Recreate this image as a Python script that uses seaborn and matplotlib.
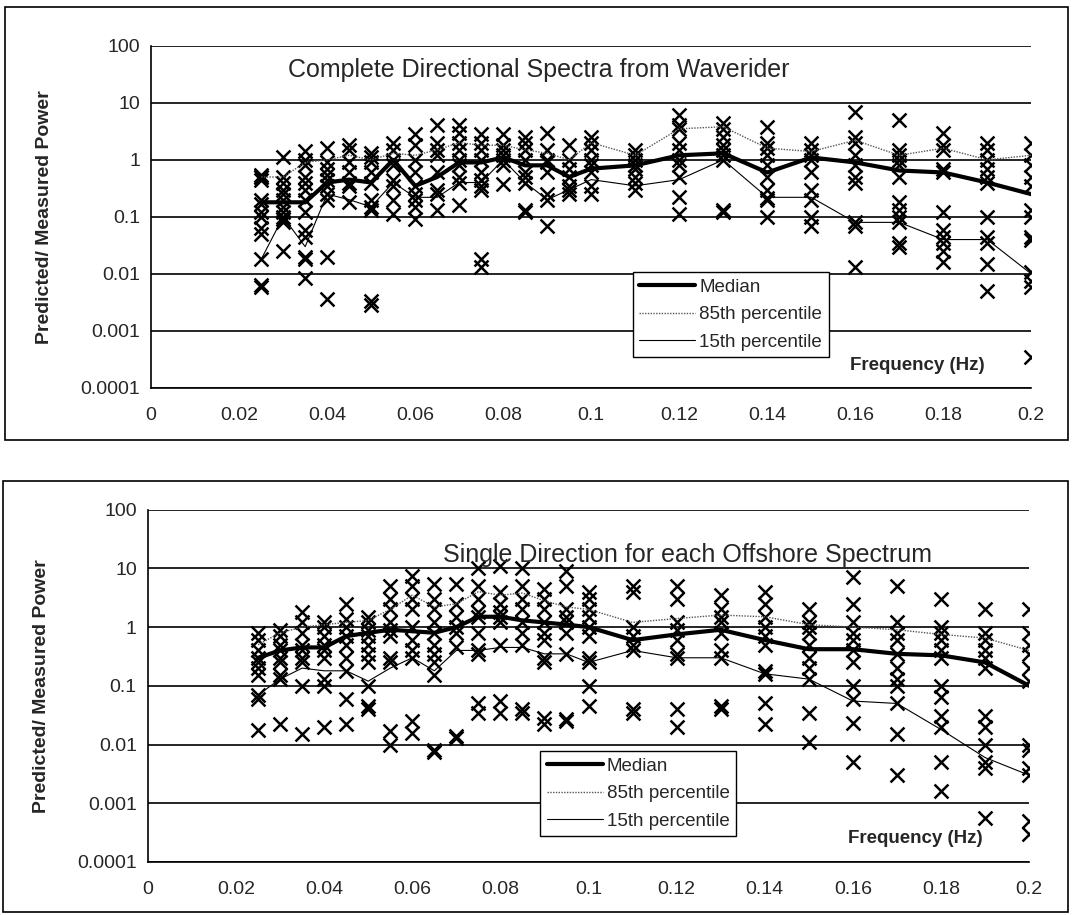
import matplotlib
matplotlib.use("Agg")
import matplotlib.pyplot as plt
import seaborn as sns
import numpy as np
import pandas as pd
from matplotlib.patches import Rectangle

# -- data --
freqs = [0.025, 0.03, 0.035, 0.04, 0.045, 0.05, 0.055, 0.06, 0.065, 0.07, 0.075,
         0.08, 0.085, 0.09, 0.095, 0.1, 0.11, 0.12, 0.13, 0.14, 0.15, 0.16, 0.17,
         0.18, 0.19, 0.2]

# panel 1: complete directional spectra from Waverider
top_points = [
    [0.55, 0.5, 0.45, 0.5, 0.2, 0.17, 0.12, 0.1, 0.065, 0.05, 0.018, 0.0065, 0.006],
    [1.1, 0.5, 0.4, 0.3, 0.25, 0.2, 0.15, 0.12, 0.1, 0.09, 0.08, 0.025],
    [1.4, 1.0, 0.8, 0.5, 0.4, 0.3, 0.2, 0.12, 0.06, 0.045, 0.02, 0.018, 0.0085],
    [1.6, 0.9, 0.7, 0.55, 0.45, 0.35, 0.25, 0.2, 0.02, 0.0037],
    [1.8, 1.5, 0.9, 0.6, 0.4, 0.35, 0.18],
    [1.3, 1.1, 0.9, 0.6, 0.4, 0.2, 0.15, 0.13, 0.0033, 0.0028],
    [2.0, 1.5, 1.0, 0.8, 0.45, 0.35, 0.2, 0.11],
    [2.8, 1.8, 1.0, 0.6, 0.35, 0.25, 0.2, 0.15, 0.09],
    [4.0, 2.0, 1.5, 1.2, 0.6, 0.3, 0.25, 0.13],
    [4.0, 3.0, 2.0, 1.5, 1.0, 0.8, 0.5, 0.4, 0.16],
    [2.8, 2.0, 1.5, 1.0, 0.6, 0.45, 0.35, 0.3, 0.018, 0.013],
    [2.8, 1.8, 1.5, 1.2, 1.0, 0.8, 0.38],
    [2.5, 2.0, 1.5, 1.0, 0.6, 0.5, 0.4, 0.13, 0.12],
    [3.0, 1.5, 1.0, 0.9, 0.6, 0.25, 0.2, 0.07],
    [1.8, 1.0, 0.7, 0.5, 0.35, 0.25, 0.3],
    [2.5, 2.0, 1.5, 1.0, 0.8, 0.6, 0.35, 0.25],
    [1.5, 1.2, 1.0, 0.8, 0.7, 0.5, 0.4, 0.3],
    [6.0, 4.0, 3.5, 2.0, 1.5, 1.0, 0.8, 0.5, 0.22, 0.11],
    [4.5, 3.5, 2.5, 1.8, 1.5, 1.2, 1.0, 0.13, 0.12],
    [3.8, 2.0, 1.6, 1.2, 0.8, 0.5, 0.3, 0.2, 0.21, 0.1],
    [2.0, 1.5, 1.2, 1.0, 0.6, 0.3, 0.2, 0.1, 0.07],
    [7.0, 2.5, 2.0, 1.2, 0.8, 0.5, 0.4, 0.08, 0.07, 0.013],
    [5.0, 1.5, 1.2, 1.0, 0.8, 0.5, 0.18, 0.13, 0.1, 0.08, 0.035, 0.03],
    [3.0, 1.8, 1.5, 0.7, 0.6, 0.12, 0.06, 0.045, 0.035, 0.025, 0.016],
    [2.0, 1.5, 1.0, 0.7, 0.5, 0.4, 0.1, 0.045, 0.035, 0.015, 0.005],
    [2.0, 1.2, 0.8, 0.5, 0.35, 0.13, 0.1, 0.045, 0.04, 0.011, 0.0075, 0.006, 0.00035],
]
top_median = [0.18, 0.18, 0.18, 0.4, 0.45, 0.4, 1.0, 0.35, 0.5, 0.9, 0.9, 1.1, 0.8,
              0.8, 0.5, 0.7, 0.8, 1.2, 1.3, 0.6, 1.1, 0.9, 0.65, 0.6, 0.4, 0.25]
top_p85 = [0.5, 0.5, 0.9, 1.0, 1.2, 1.0, 1.3, 1.2, 1.5, 2.0, 1.8, 1.8, 1.5, 1.3,
           1.0, 2.0, 1.2, 3.5, 3.8, 1.6, 1.4, 2.2, 1.2, 1.6, 1.0, 1.2]
top_p15 = [0.018, 0.1, 0.03, 0.25, 0.2, 0.15, 0.4, 0.22, 0.22, 0.4, 0.4, 1.0, 0.4,
           0.2, 0.3, 0.45, 0.35, 0.45, 1.0, 0.22, 0.22, 0.08, 0.08, 0.04, 0.04, 0.01]

# panel 2: single direction for each offshore spectrum
bot_points = [
    [0.8, 0.6, 0.4, 0.3, 0.25, 0.2, 0.15, 0.07, 0.06, 0.018],
    [0.9, 0.7, 0.5, 0.4, 0.3, 0.25, 0.15, 0.13, 0.022],
    [1.8, 1.2, 0.8, 0.5, 0.4, 0.3, 0.25, 0.1, 0.015],
    [1.2, 1.0, 0.7, 0.5, 0.4, 0.3, 0.13, 0.1, 0.02],
    [2.5, 1.4, 1.0, 0.7, 0.5, 0.3, 0.18, 0.06, 0.022],
    [1.5, 1.2, 0.9, 0.7, 0.5, 0.35, 0.25, 0.1, 0.045, 0.04],
    [5.0, 3.0, 2.0, 1.2, 0.9, 0.7, 0.3, 0.25, 0.017, 0.01],
    [7.5, 5.0, 3.0, 2.0, 1.0, 0.6, 0.4, 0.3, 0.025, 0.016],
    [5.5, 3.0, 2.0, 1.2, 0.8, 0.5, 0.35, 0.25, 0.15, 0.008, 0.0075],
    [5.5, 2.5, 1.5, 1.0, 0.8, 0.45, 0.014, 0.013],
    [10.0, 5.0, 3.0, 1.8, 1.5, 0.8, 0.4, 0.35, 0.05, 0.035],
    [11.0, 4.0, 2.5, 1.8, 1.5, 1.2, 0.5, 0.055, 0.035],
    [10.0, 5.0, 3.0, 2.0, 1.2, 0.8, 0.5, 0.04, 0.035],
    [4.5, 3.0, 2.0, 1.2, 0.8, 0.6, 0.3, 0.25, 0.028, 0.022],
    [9.0, 5.0, 2.0, 1.5, 1.2, 0.8, 0.35, 0.027, 0.025],
    [4.0, 3.0, 2.0, 1.5, 1.0, 0.7, 0.3, 0.25, 0.1, 0.045],
    [5.0, 4.0, 1.0, 0.7, 0.5, 0.4, 0.04, 0.035],
    [5.0, 3.0, 1.2, 0.9, 0.6, 0.35, 0.3, 0.04, 0.02],
    [3.5, 2.0, 1.5, 1.2, 0.8, 0.4, 0.3, 0.045, 0.04],
    [4.0, 2.5, 1.5, 1.0, 0.7, 0.5, 0.18, 0.16, 0.05, 0.022],
    [2.0, 1.2, 1.0, 0.8, 0.5, 0.3, 0.2, 0.13, 0.035, 0.011],
    [7.0, 2.5, 1.2, 0.8, 0.6, 0.4, 0.25, 0.1, 0.06, 0.023, 0.005],
    [5.0, 1.2, 0.8, 0.6, 0.35, 0.2, 0.13, 0.1, 0.05, 0.015, 0.003],
    [3.0, 1.0, 0.8, 0.6, 0.4, 0.3, 0.1, 0.065, 0.03, 0.02, 0.005, 0.0016],
    [2.0, 0.8, 0.6, 0.4, 0.3, 0.2, 0.03, 0.02, 0.01, 0.005, 0.004, 0.00055],
    [2.0, 0.8, 0.5, 0.35, 0.2, 0.12, 0.01, 0.008, 0.004, 0.003, 0.0005, 0.0003],
]
bot_median = [0.3, 0.4, 0.45, 0.45, 0.7, 0.8, 0.9, 0.85, 0.8, 1.0, 1.5, 1.5, 1.3,
              1.2, 1.1, 1.0, 0.6, 0.75, 0.9, 0.6, 0.42, 0.42, 0.35, 0.33, 0.25, 0.1]
bot_p85 = [0.5, 0.8, 1.0, 1.1, 1.2, 1.3, 2.0, 3.5, 2.2, 2.5, 4.0, 3.5, 3.8, 2.8,
           2.2, 2.0, 1.2, 1.4, 1.6, 1.5, 1.1, 1.0, 0.9, 0.75, 0.65, 0.4]
bot_p15 = [0.07, 0.13, 0.2, 0.18, 0.18, 0.12, 0.2, 0.3, 0.18, 0.4, 0.4, 0.45, 0.45,
           0.35, 0.35, 0.25, 0.4, 0.3, 0.3, 0.16, 0.13, 0.055, 0.05, 0.018, 0.006, 0.003]

titles = ["Complete Directional Spectra from Waverider",
          "Single Direction for each Offshore Spectrum"]
xticks = [0, 0.02, 0.04, 0.06, 0.08, 0.1, 0.12, 0.14, 0.16, 0.18, 0.2]
xtick_labels = ["0", "0.02", "0.04", "0.06", "0.08", "0.1", "0.12", "0.14", "0.16", "0.18", "0.2"]
yticks = [0.0001, 0.001, 0.01, 0.1, 1, 10, 100]
ytick_labels = ["0.0001", "0.001", "0.01", "0.1", "1", "10", "100"]

sns.set_theme(style="white")
plt.rcParams['font.family'] = ['Liberation Sans', 'DejaVu Sans']

fig = plt.figure(figsize=(10.72, 9.15), dpi=100)
ax1 = fig.add_axes([0.141, 0.576, 0.821, 0.374])
ax2 = fig.add_axes([0.138, 0.058, 0.822, 0.385])

# panel frames
fig.patches.append(Rectangle((5 / 1072, 1 - 440 / 915), 1063 / 1072, 433 / 915,
                             transform=fig.transFigure, fill=False, ec='black', lw=1.2))
fig.patches.append(Rectangle((3 / 1072, 1 - 912 / 915), 1065 / 1072, 431 / 915,
                             transform=fig.transFigure, fill=False, ec='black', lw=1.2))


def long_points(points):
    rows = []
    for f, vals in zip(freqs, points):
        for v in vals:
            rows.append({'freq': f, 'value': v})
    return pd.DataFrame(rows)


panels = [
    (ax1, top_points, top_median, top_p85, top_p15, titles[0], (0.155, 0.93), (0.547, 0.339)),
    (ax2, bot_points, bot_median, bot_p85, bot_p15, titles[1], (0.335, 0.872), (0.445, 0.315)),
]

for ax, pts, med, p85, p15, title, tpos, lpos in panels:
    ax.set_yscale('log')
    df = long_points(pts)
    sns.scatterplot(data=df, x='freq', y='value', ax=ax, marker='x', color='black',
                    s=100, linewidth=1.8, legend=False, zorder=3)
    lines = pd.DataFrame({'freq': freqs, 'med': med, 'p85': p85, 'p15': p15})
    sns.lineplot(data=lines, x='freq', y='med', ax=ax, color='black', lw=3,
                 label='Median', zorder=4)
    sns.lineplot(data=lines, x='freq', y='p85', ax=ax, color='#555555', lw=1,
                 linestyle=(0, (1, 1)), label='85th percentile', zorder=4)
    sns.lineplot(data=lines, x='freq', y='p15', ax=ax, color='black', lw=0.8,
                 label='15th percentile', zorder=4)

    ax.set_xlim(0, 0.2)
    ax.set_ylim(0.0001, 100)
    ax.set_xticks(xticks)
    ax.set_xticklabels(xtick_labels, fontsize=14)
    ax.set_yticks(yticks)
    ax.set_yticklabels(ytick_labels, fontsize=14)
    ax.minorticks_off()
    ax.tick_params(axis='x', direction='inout', length=12, width=1, color='black', pad=8)
    ax.tick_params(axis='y', direction='out', length=5, width=1, color='black', pad=3)
    ax.grid(axis='y', color='black', lw=1.2)
    ax.grid(axis='x', visible=False)
    for side in ['top', 'right']:
        ax.spines[side].set_visible(False)
    for side in ['left', 'bottom']:
        ax.spines[side].set_color('black')
        ax.spines[side].set_linewidth(1.2)
    ax.set_xlabel('')
    ax.set_ylabel('Predicted/ Measured Power', fontsize=14, fontweight='bold')
    ax.yaxis.set_label_coords(-0.111, 0.5)

    ax.text(tpos[0], tpos[1], title, transform=ax.transAxes, fontsize=18,
            ha='left', va='center', zorder=5)
    ax.text(0.871, 0.066, 'Frequency (Hz)', transform=ax.transAxes, fontsize=13.5,
            fontweight='bold', ha='center', va='center')

    leg = ax.legend(loc='upper left', bbox_to_anchor=lpos, fontsize=13.5, frameon=True,
                    fancybox=False, edgecolor='black', framealpha=1, handlelength=3.0,
                    handletextpad=0.2, borderpad=0.35, labelspacing=0.55,
                    borderaxespad=0)
    leg.get_frame().set_linewidth(1)
    leg.set_zorder(6)

fig.savefig('out.png', dpi=100)
